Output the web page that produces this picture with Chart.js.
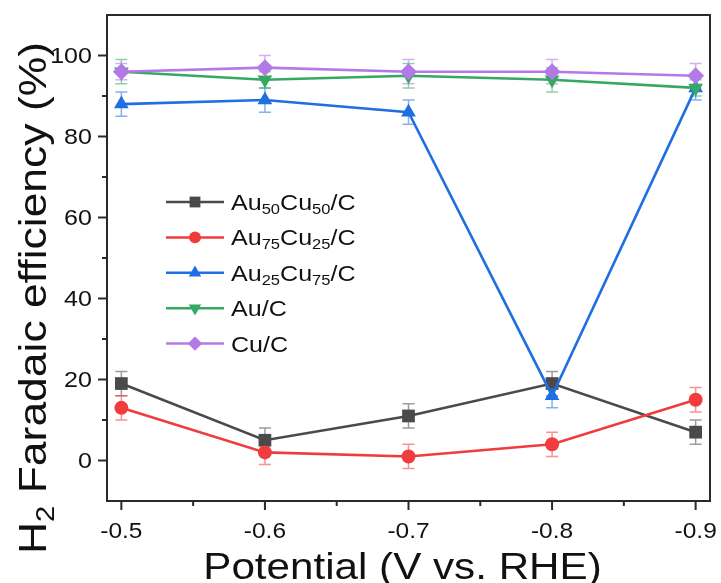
<!DOCTYPE html>
<html>
<head>
<meta charset="utf-8">
<script src="https://cdn.jsdelivr.net/npm/chart.js@4/dist/chart.umd.min.js"></script>
<style>
html,body{margin:0;padding:0;background:#fff;}
#wrap{width:721px;height:583px;position:relative;}
</style>
</head>
<body>
<div id="wrap"><canvas id="c" width="721" height="583"></canvas></div>
<script>
// ---- data ----
const potentials = [-0.5, -0.6, -0.7, -0.8, -0.9];
const au50cu50 = [19, 5, 11, 19, 7];
const au50cu50Err = [3, 3, 3, 3, 3];
const au75cu25 = [13, 2, 1, 4, 15];
const au75cu25Err = [3, 3, 3, 3, 3];
const au25cu75 = [88, 89, 86, 16, 92];
const au25cu75Err = [3, 3, 3, 3, 3];
const auC = [96, 94, 95, 94, 92];
const auCErr = [3, 2, 3, 3, 2];
const cuC = [96, 97, 96, 96, 95];
const cuCErr = [2, 3, 3, 3, 3];

const yTickValues = [0, 20, 40, 60, 80, 100];
const yTickLabels = ['0', '20', '40', '60', '80', '100'];
const yMinorValues = [10, 30, 50, 70, 90];
const xTickValues = [-0.5, -0.6, -0.7, -0.8, -0.9];
const xTickLabels = ['-0.5', '-0.6', '-0.7', '-0.8', '-0.9'];
const xMinorValues = [-0.55, -0.65, -0.75, -0.85];

// legend labels as [text, isSubscript] parts
const seriesLabels = [
  [['Au',0],['50',1],['Cu',0],['50',1],['/C',0]],
  [['Au',0],['75',1],['Cu',0],['25',1],['/C',0]],
  [['Au',0],['25',1],['Cu',0],['75',1],['/C',0]],
  [['Au/C',0]],
  [['Cu/C',0]]
];
const yTitleParts = [['H',0],['2',1],[' Faradaic efficiency (%)',0]];
const xTitleParts = [['Potential (V vs. RHE)',0]];

const FONT = '"Liberation Sans", Arial, sans-serif';
const SX = 1.14; // horizontal stretch of the reference lettering

const seriesDefs = [
  {vals: au50cu50, err: au50cu50Err, color:'#4a4a4a', errColor:'rgba(74,74,74,0.55)', style:'rect', r:9, rot:0},
  {vals: au75cu25, err: au75cu25Err, color:'#f03c3c', errColor:'rgba(240,60,60,0.55)', style:'circle', r:7, rot:0},
  {vals: au25cu75, err: au25cu75Err, color:'#1f6fe3', errColor:'rgba(31,111,227,0.55)', style:'triangle', r:8.5, rot:0},
  {vals: auC, err: auCErr, color:'#36a862', errColor:'rgba(54,168,98,0.55)', style:'triangle', r:8.5, rot:180},
  {vals: cuC, err: cuCErr, color:'#b379e6', errColor:'rgba(179,121,230,0.6)', style:'rectRot', r:8.5, rot:0}
];

const datasets = seriesDefs.map((s, i) => ({
  label: 'S' + i,
  data: potentials.map((p, j) => ({x: p, y: s.vals[j]})),
  borderColor: s.color,
  backgroundColor: s.color,
  pointBackgroundColor: s.color,
  pointBorderColor: s.color,
  borderWidth: 2.6,
  pointStyle: s.style,
  pointRadius: s.r,
  pointRotation: s.rot,
  pointBorderWidth: 0,
  tension: 0,
  order: seriesDefs.length - i,
  errors: s.err,
  errColor: s.errColor
}));

// draws rich text (with subscripts); (x,y) = anchor on baseline, align: left|center|right
function drawRich(ctx, parts, x, y, size, subSize, subDrop, align, sx) {
  ctx.save();
  ctx.translate(x, y);
  ctx.scale(sx, 1);
  ctx.textAlign = 'left';
  ctx.textBaseline = 'alphabetic';
  let total = 0;
  const widths = parts.map(([t, sub]) => {
    ctx.font = (sub ? subSize : size) + 'px ' + FONT;
    const w = ctx.measureText(t).width;
    total += w;
    return w;
  });
  let cx = align === 'center' ? -total / 2 : (align === 'right' ? -total : 0);
  parts.forEach(([t, sub], i) => {
    ctx.font = (sub ? subSize : size) + 'px ' + FONT;
    ctx.fillText(t, cx, sub ? subDrop : 0);
    cx += widths[i];
  });
  ctx.restore();
}

const decor = {
  id: 'decor',
  beforeDatasetsDraw(chart) {
    const ctx = chart.ctx, xs = chart.scales.x, ys = chart.scales.y;
    ctx.save();
    chart.data.datasets.forEach(ds => {
      ctx.strokeStyle = ds.errColor;
      ctx.lineWidth = 1.5;
      ds.data.forEach((pt, j) => {
        const e = ds.errors[j];
        const px = xs.getPixelForValue(pt.x);
        const top = ys.getPixelForValue(pt.y + e);
        const bot = ys.getPixelForValue(pt.y - e);
        ctx.beginPath();
        ctx.moveTo(px, top); ctx.lineTo(px, bot);
        ctx.moveTo(px - 6, top); ctx.lineTo(px + 6, top);
        ctx.moveTo(px - 6, bot); ctx.lineTo(px + 6, bot);
        ctx.stroke();
      });
    });
    ctx.restore();
  },
  afterDraw(chart) {
    const ctx = chart.ctx, xs = chart.scales.x, ys = chart.scales.y;
    const a = chart.chartArea;
    ctx.save();
    // frame
    ctx.strokeStyle = '#2a2a2a';
    ctx.lineWidth = 2;
    ctx.strokeRect(a.left, a.top, a.right - a.left, a.bottom - a.top);
    // ticks
    ctx.beginPath();
    xTickValues.forEach(v => { const p = xs.getPixelForValue(v); ctx.moveTo(p, a.bottom); ctx.lineTo(p, a.bottom + 9); });
    xMinorValues.forEach(v => { const p = xs.getPixelForValue(v); ctx.moveTo(p, a.bottom); ctx.lineTo(p, a.bottom + 5); });
    yTickValues.forEach(v => { const p = ys.getPixelForValue(v); ctx.moveTo(a.left, p); ctx.lineTo(a.left - 9, p); });
    yMinorValues.forEach(v => { const p = ys.getPixelForValue(v); ctx.moveTo(a.left, p); ctx.lineTo(a.left - 5, p); });
    ctx.stroke();

    // tick labels
    ctx.fillStyle = '#111';
    xTickValues.forEach((v, i) => {
      drawRich(ctx, [[xTickLabels[i], 0]], xs.getPixelForValue(v), a.bottom + 37, 21.5, 14, 0, 'center', SX);
    });
    yTickValues.forEach((v, i) => {
      drawRich(ctx, [[yTickLabels[i], 0]], a.left - 15, ys.getPixelForValue(v) + 7.8, 22, 14, 0, 'right', SX);
    });

    // legend
    const lx0 = a.left + 59, lx1 = a.left + 117, tx = a.left + 124;
    const ly0 = a.top + 187, lstep = 35.4;
    chart.data.datasets.forEach((ds, i) => {
      const y = ly0 + i * lstep;
      ctx.strokeStyle = ds.borderColor;
      ctx.lineWidth = 2.5;
      ctx.beginPath(); ctx.moveTo(lx0, y); ctx.lineTo(lx1, y); ctx.stroke();
      ctx.fillStyle = ds.borderColor;
      Chart.helpers.drawPoint(ctx, {pointStyle: ds.pointStyle, radius: ds.pointRadius * 0.85, rotation: ds.pointRotation, borderWidth: 0}, (lx0 + lx1) / 2, y);
      ctx.fillStyle = '#111';
      drawRich(ctx, seriesLabels[i], tx, y + 8, 22, 14.5, 4, 'left', SX);
    });

    // x title
    ctx.fillStyle = '#111';
    drawRich(ctx, xTitleParts, (a.left + a.right) / 2 - 6, 579, 37, 24, 0, 'center', SX);

    // y title
    ctx.save();
    ctx.translate(46, 298);
    ctx.rotate(-Math.PI / 2);
    drawRich(ctx, yTitleParts, 0, 0, 38, 25, 8, 'center', 1.17);
    ctx.restore();

    ctx.restore();
  }
};

new Chart(document.getElementById('c'), {
  type: 'line',
  data: { datasets },
  plugins: [decor],
  options: {
    responsive: false,
    animation: false,
    events: [],
    layout: { padding: { left: 0, top: 15, right: 11, bottom: 0 } },
    plugins: { legend: { display: false }, tooltip: { enabled: false } },
    scales: {
      x: {
        type: 'linear',
        reverse: true,
        min: -0.91, max: -0.49,
        grid: { display: false, drawTicks: false },
        border: { display: false },
        afterBuildTicks: s => { s.ticks = xTickValues.map(v => ({value: v})); },
        afterFit: s => { s.height = 82; s.paddingLeft = 0; s.paddingRight = 0; },
        ticks: { display: false }
      },
      y: {
        min: -10, max: 110,
        grid: { display: false, drawTicks: false },
        border: { display: false },
        afterBuildTicks: s => { s.ticks = yTickValues.map(v => ({value: v})); },
        afterFit: s => { s.width = 107; s.paddingTop = 0; s.paddingBottom = 0; },
        ticks: { display: false }
      }
    }
  }
});
</script>
</body>
</html>
